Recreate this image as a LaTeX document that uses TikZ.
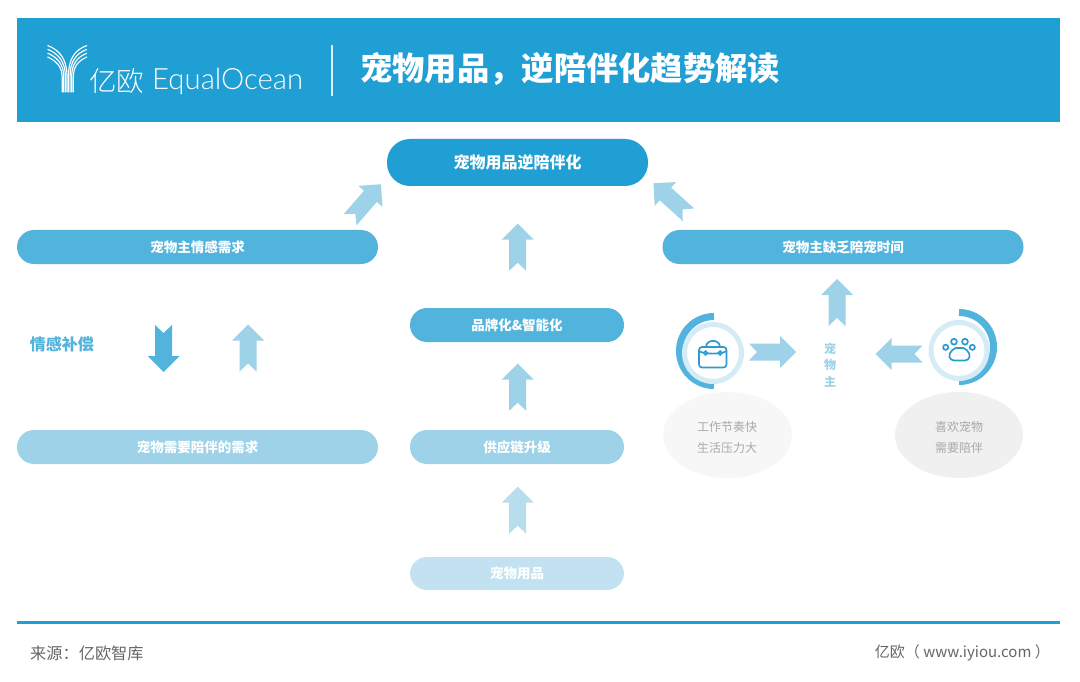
\documentclass[tikz,border=0pt]{standalone}
\usepackage{fontspec}
\setmainfont{Noto Sans CJK SC}
\newfontfamily\titlefont{Noto Sans CJK SC Black}
\newfontfamily\thincjk{Noto Sans CJK SC Light}
\newfontfamily\latinl{Lato Light}
\definecolor{cmain}{HTML}{1F9FD4}
\definecolor{cmid}{HTML}{52B4DD}
\definecolor{clite}{HTML}{9DD2E8}
\definecolor{cpale}{HTML}{C2E2F1}
\definecolor{carrowp}{HTML}{B8DDED}
\definecolor{cgreyt}{HTML}{A9A9A9}
\definecolor{cring}{HTML}{D5ECF6}
\definecolor{cicon}{HTML}{2C9BD0}
\newcommand{\blockarrow}[4]{%
  \begin{scope}[shift={(#1,#2)},rotate=#3]
    \fill[#4] (0,-23.5) -- (16,-7.5) -- (8.5,-7.5) -- (8.5,23.5) -- (0,15.5) -- (-8.5,23.5) -- (-8.5,-7.5) -- (-16,-7.5) -- cycle;
  \end{scope}}
\tikzset{
  pill/.style={rounded corners=17pt,minimum height=34pt,inner sep=0pt,text=white,font=\fontsize{13.5}{14}\selectfont\bfseries},
  greytext/.style={text=cgreyt,font=\fontsize{12}{14}\selectfont,inner sep=0pt},
  icon/.style={draw=cicon,line width=1.7pt,fill=none},
}
\begin{document}
\begin{tikzpicture}[x=1pt,y=-1pt]
\useasboundingbox (0,0) rectangle (1080,682);
\fill[white] (0,0) rectangle (1080,682);
% header
\fill[cmain] (17,18) rectangle (1060,122);
% logo
\begin{scope}[white,line width=1.15pt]
  \foreach \i in {0,1,2,3}{
    \draw ({67-\i*1.6},92.5) -- ({67-\i*1.6},{76+\i*0.5}) .. controls ({67-\i*1.6},{60+\i*2}) and ({60-\i*1.5},{50+\i*3.6}) .. (47.5,{45.5+\i*3.8});
    \draw ({68.5+\i*1.6},92.5) -- ({68.5+\i*1.6},{76+\i*0.5}) .. controls ({68.5+\i*1.6},{60+\i*2}) and ({74+\i*1.5},{50+\i*3.6}) .. (87,{45.5+\i*3.8});
  }
\end{scope}
\node[white,font=\thincjk\fontsize{27.5}{28}\selectfont,inner sep=0pt] (logocn) at (116.5,81) {亿欧};
\node[white,font=\latinl\fontsize{29.3}{30}\selectfont,inner sep=0pt,anchor=west] (logoen) at (152,81) {EqualOcean};
\draw[white!85!cmain,line width=1.1pt] (332,45) -- (332,96);
\node[white,anchor=west,inner sep=0pt,font=\titlefont\fontsize{32.3}{33}\selectfont] (title) at (360,69) {宠物用品，逆陪伴化趋势解读};
% top pill
\node[pill,fill=cmain,rounded corners=23pt,minimum width=261pt,minimum height=47pt,font=\fontsize{16}{17}\selectfont\bfseries] (top) at (517.5,162.5) {宠物用品逆陪伴化};
% pills
\node[pill,fill=cmid,minimum width=361pt] (need) at (197.5,247) {宠物主情感需求};
\node[pill,fill=cmid,minimum width=361pt] (lack) at (843,247) {宠物主缺乏陪宠时间};
\node[pill,fill=cmid,minimum width=214pt] (brand) at (517,325) {品牌化\&智能化};
\node[pill,fill=clite,minimum width=361pt] (petneed) at (197.5,447) {宠物需要陪伴的需求};
\node[pill,fill=clite,minimum width=214pt] (supply) at (517,447) {供应链升级};
\node[pill,fill=cpale,minimum width=214pt,minimum height=33pt] (goods) at (517,573.5) {宠物用品};
% arrows
\blockarrow{365.5}{202}{-41}{clite}
\blockarrow{671}{199}{48}{clite}
\blockarrow{517.7}{247.2}{0}{clite}
\blockarrow{517.7}{387.2}{0}{clite}
\blockarrow{517.7}{510.2}{0}{carrowp}
\blockarrow{163.5}{348.5}{180}{cmid}
\blockarrow{248}{348}{0}{clite}
\blockarrow{837}{302.5}{0}{clite}
\blockarrow{772.5}{352}{-90}{clite}
\blockarrow{899}{354}{90}{clite}
\node[text=cmid,inner sep=0pt,font=\fontsize{16}{17}\selectfont\bfseries] (comp) at (62,344) {情感补偿};
% owner
\node[text=clite,inner sep=0pt,font=\fontsize{12}{13}\selectfont\bfseries] (o1) at (830,349) {宠};
\node[text=clite,inner sep=0pt,font=\fontsize{12}{13}\selectfont\bfseries] (o2) at (830,365) {物};
\node[text=clite,inner sep=0pt,font=\fontsize{12}{13}\selectfont\bfseries] (o3) at (830,382) {主};
% bubbles
\fill[black!3] (727.5,435) ellipse [x radius=64.5,y radius=43];
\fill[black!6] (959,435) ellipse [x radius=64,y radius=43];
\node[greytext] (l1) at (727,427) {工作节奏快};
\node[greytext] (l2) at (727,448) {生活压力大};
\node[greytext] (r1) at (959,427) {喜欢宠物};
\node[greytext] (r2) at (959,448) {需要陪伴};
% left circle
\draw[cmid,line width=7pt] (714,316.5) arc[start angle=-90,delta angle=-180,radius=34.5];
\fill[white,draw=cring,line width=5pt] (713,353) circle (28.5);
% right circle
\draw[cmid,line width=7pt] (959,312.5) arc[start angle=-90,delta angle=180,radius=34.5];
\fill[white,draw=cring,line width=5pt] (959,350.5) circle (28);
% bag icon
\draw[icon,rounded corners=3pt] (699,347) rectangle (726.5,367.5);
\draw[icon] (699,351) .. controls (703,354.5) and (722,354.5) .. (726.5,351);
\draw[icon] (706,346.5) .. controls (707,339) and (719,339) .. (720,346.5);
\draw[icon,fill=white] (705.5,353) circle (1.8);
\draw[icon,fill=white] (720,353) circle (1.8);
% paw icon
\draw[icon] (945.7,347.3) circle (2.6);
\draw[icon] (954,341.7) circle (2.9);
\draw[icon] (965,341.7) circle (2.9);
\draw[icon] (972.3,347.3) circle (2.6);
\draw[icon,rounded corners=3.5pt] (950.5,360.5) .. controls (948,352) and (955,348) .. (959.5,348) .. controls (964,348) and (971,352) .. (968.5,360.5) -- cycle;
% footer
\draw[cmain,line width=3pt] (17,622.5) -- (1060,622.5);
\node[text=black!60,anchor=west,inner sep=0pt,font=\fontsize{16.2}{17}\selectfont] (src) at (30,653) {来源：亿欧智库};
\node[text=black!60,anchor=east,inner sep=0pt,font=\fontsize{15}{17}\selectfont] (site) at (1050,653) {亿欧（ www.iyiou.com ）};
\end{tikzpicture}
\end{document}
